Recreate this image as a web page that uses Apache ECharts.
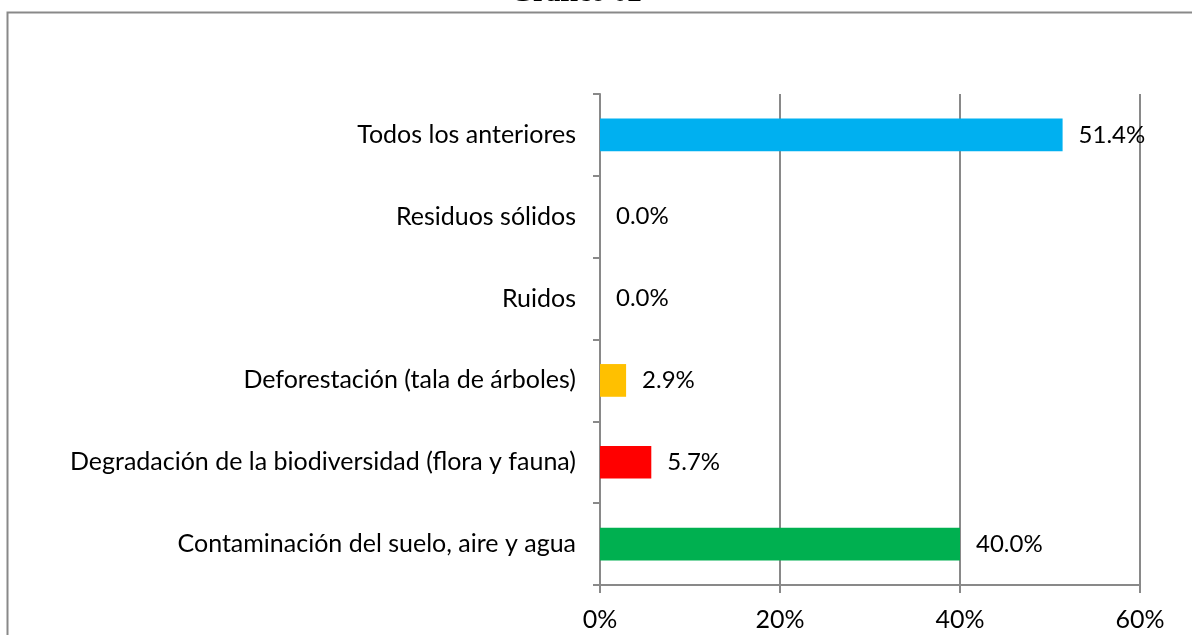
<!DOCTYPE html>
<html>
<head>
<meta charset="utf-8">
<script src="https://cdn.jsdelivr.net/npm/echarts@6/dist/echarts.min.js"></script>
<style>html,body{margin:0;padding:0;background:#fff;}#c{width:1192px;height:635px;}</style>
</head>
<body>
<div id="c"></div>
<script>
const categories = [
  "Todos los anteriores",
  "Residuos sólidos",
  "Ruidos",
  "Deforestación (tala de árboles)",
  "Degradación de la biodiversidad (flora y fauna)",
  "Contaminación del suelo, aire y agua"
];
const values = [51.4, 0.0, 0.0, 2.9, 5.7, 40.0];
const colors = ["#00B0F0", "#00B0F0", "#00B0F0", "#FFC000", "#FF0000", "#00B050"];
const xTicks = [0, 20, 40, 60];
const titleText = "Gráfico 02";

const chart = echarts.init(document.getElementById('c'), null, {renderer: 'canvas'});
const gray = '#898989';
const font = 'Lato, "Open Sans", sans-serif';
chart.setOption({
  animation: false,
  backgroundColor: '#fff',
  graphic: [
    {type: 'rect', shape: {x: 7.5, y: 12.5, width: 1250, height: 700}, style: {fill: 'none', stroke: gray, lineWidth: 2}, silent: true},
    {type: 'text', x: 576, y: 8, style: {text: titleText, font: 'bold 29px "Liberation Serif", serif', fill: '#000', textAlign: 'center', textVerticalAlign: 'bottom'}}
  ],
  grid: {left: 600, top: 94, right: 52, bottom: 50, containLabel: false},
  xAxis: {
    type: 'value', min: xTicks[0], max: xTicks[xTicks.length - 1], interval: 20,
    axisLine: {show: true, lineStyle: {color: gray, width: 2}},
    axisTick: {show: true, length: 8, lineStyle: {color: gray, width: 2}},
    splitLine: {show: true, lineStyle: {color: gray, width: 2}},
    axisLabel: {formatter: '{value}%', color: '#000', fontSize: 25, fontFamily: font, margin: 22}
  },
  yAxis: {
    type: 'category', data: categories, inverse: true,
    axisLine: {show: true, lineStyle: {color: gray, width: 2}},
    axisTick: {show: true, length: 7, lineStyle: {color: gray, width: 2}},
    axisLabel: {color: '#000', fontSize: 25, fontFamily: font, margin: 24}
  },
  series: [{
    type: 'bar', barWidth: '40%',
    data: values.map((v, i) => ({value: v, itemStyle: {color: colors[i]}})),
    label: {show: true, position: 'right', distance: 16, color: '#000', fontSize: 24, fontFamily: font,
      formatter: p => p.value.toFixed(1) + '%'}
  }]
});
</script>
</body>
</html>
